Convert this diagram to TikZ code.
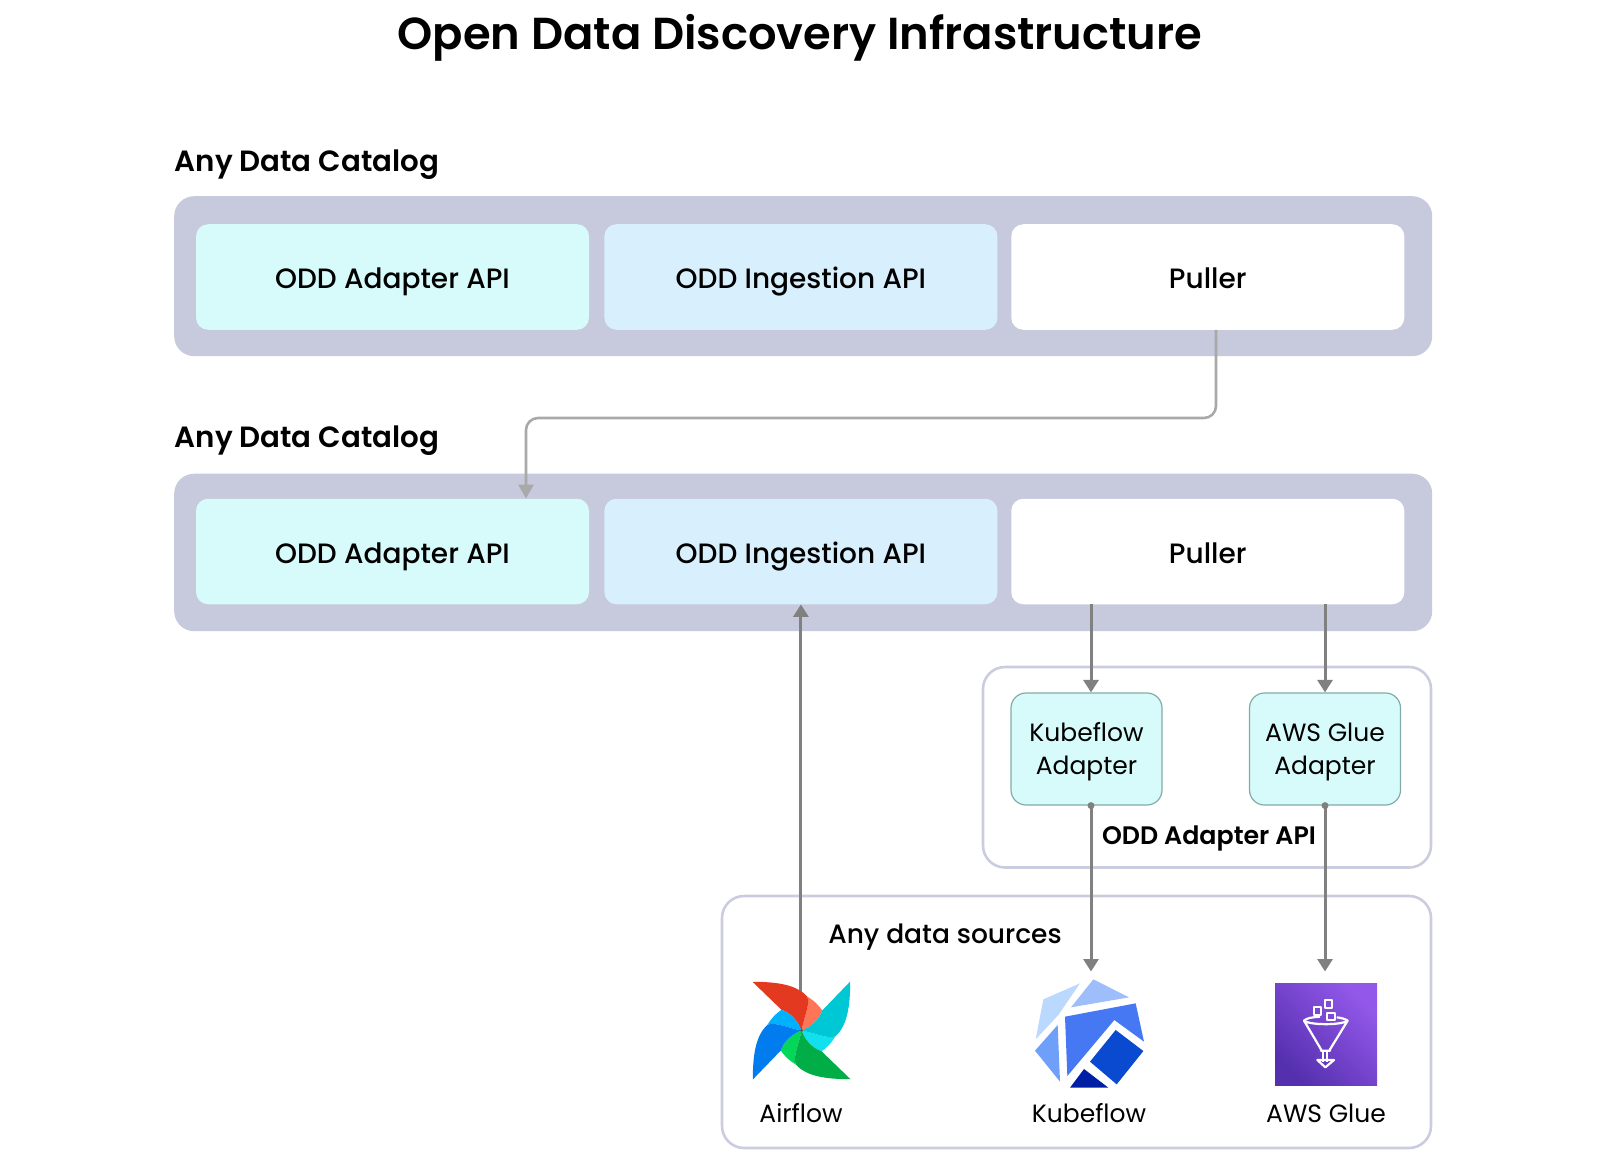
\documentclass[tikz,border=0pt]{standalone}
\usepackage{fontspec}
\setmainfont{Poppins}[BoldFont={Poppins SemiBold}]
\newfontfamily\mediumfont{Poppins Medium}
\usepackage{tikz}
\usetikzlibrary{arrows.meta, positioning, backgrounds}

\definecolor{panelgray}{HTML}{C7C9DC}
\definecolor{framegray}{HTML}{CBCCE0}
\definecolor{adaptercyan}{HTML}{D7FBFB}
\definecolor{ingestblue}{HTML}{D8F0FD}
\definecolor{adapteredge}{HTML}{82ABA8}
\definecolor{wiredark}{HTML}{808080}
\definecolor{wirelight}{HTML}{A9A9A9}
\definecolor{flowred}{HTML}{E43921}
\definecolor{flowredlt}{HTML}{FF7557}
\definecolor{flowteal}{HTML}{00C7D4}
\definecolor{flowtealt}{HTML}{11E1EE}
\definecolor{flowgreen}{HTML}{00AD46}
\definecolor{flowgreenlt}{HTML}{04D659}
\definecolor{flowblue}{HTML}{017CEE}
\definecolor{flowbluelt}{HTML}{00B1FF}
\definecolor{kubepale}{HTML}{BBD8FF}
\definecolor{kubetop}{HTML}{9DBDFB}
\definecolor{kubeleft}{HTML}{6FA0F9}
\definecolor{kubemain}{HTML}{4578F2}
\definecolor{kubedeep}{HTML}{0A4AD0}
\definecolor{kubenavy}{HTML}{001FA5}
\definecolor{gluedark}{HTML}{5530AE}
\definecolor{gluelight}{HTML}{9358EA}

\begin{document}
\begin{tikzpicture}[
    x=1pt, y=-1pt,
    panel/.style={rectangle, fill=panelgray, rounded corners=20pt, minimum width=1258pt, anchor=north west},
    apibox/.style={rectangle, rounded corners=12pt, minimum width=393pt, minimum height=105.5pt, text height=23pt, text depth=0pt, font=\fontsize{28}{34}\mediumfont},
    heading/.style={anchor=west, inner sep=0pt, font=\fontsize{29.3}{36}\selectfont\bfseries},
    frame/.style={rectangle, draw=framegray, line width=2.6pt, rounded corners=22pt, anchor=north west, outer sep=0pt},
    adapter/.style={rectangle, draw=adapteredge, line width=1.2pt, fill=adaptercyan, rounded corners=15pt, minimum width=151pt, minimum height=112pt, align=center, font=\fontsize{25}{33.5}\selectfont},
    source/.style={inner sep=0pt, font=\fontsize{25}{31}\selectfont},
    icon/.style={inner sep=0pt, minimum size=110pt, outer sep=7pt},
    arrow/.style={-{Triangle[width=15pt,length=12.5pt]}, line width=3pt, draw=wiredark},
    pull/.style={-{Triangle[width=15pt,length=14pt]}, line width=2.6pt, draw=wirelight, rounded corners=12pt}
]

% Title and headings
\node[inner sep=0pt, font=\fontsize{44.8}{54}\selectfont\bfseries] (title) at (800,38) {Open Data Discovery Infrastructure};
\node[heading] (catalogone) at (174.5,165) {Any Data Catalog};
\node[heading] (catalogtwo) at (174.5,441) {Any Data Catalog};

% First catalog
\node[apibox, fill=adaptercyan] (adapterone) at (392.5,277) {ODD Adapter API};
\node[apibox, fill=ingestblue, right=15pt of adapterone] (ingestone) {ODD Ingestion API};
\node[apibox, fill=white, right=13.5pt of ingestone] (pullerone) {Puller};

% Second catalog
\node[apibox, fill=adaptercyan] (adaptertwo) at (392.5,551.5) {ODD Adapter API};
\node[apibox, fill=ingestblue, right=15pt of adaptertwo] (ingesttwo) {ODD Ingestion API};
\node[apibox, fill=white, right=13.5pt of ingesttwo] (pullertwo) {Puller};

% Adapters
\node[adapter] (kubeadapter) at (1086.5,749) {\rule{0pt}{24pt}Kubeflow\\Adapter};
\node[adapter] (glueadapter) at (1325,749) {\rule{0pt}{24pt}AWS Glue\\Adapter};
\node[inner sep=0pt, font=\fontsize{25.3}{31}\selectfont\bfseries] (adapterlabel) at (1209,838) {ODD Adapter API};

% Data sources
\node[source, font=\fontsize{26.5}{31}\mediumfont] (sourcelabel) at (945,937.5) {Any data sources};
\node[icon] (airflow) at (801.5,1030.5) {};
\node[icon] (kubeflow) at (1089.5,1033.5) {};
\node[icon] (glue) at (1326,1033.5) {};
\node[source] (airflowlabel) at (801,1113) {Airflow};
\node[source] (kubeflowlabel) at (1089,1113) {Kubeflow};
\node[source] (gluelabel) at (1326,1113) {AWS Glue};

% Arrows
\coordinate (kubeline) at (1091,0);
\coordinate (glueline) at (1325,0);
\coordinate (pullline) at (1216,0);
\coordinate (pushline) at (526,0);
\draw[pull] (pullline |- pullerone.south) |- (pushline |- 0,418) -- (pushline |- adaptertwo.north);
\draw[arrow] (ingesttwo.south |- airflow.center) -- (ingesttwo.south);
\draw[arrow] (kubeline |- pullertwo.south) -- (kubeline |- kubeadapter.north);
\draw[arrow] (glueline |- pullertwo.south) -- (glueline |- glueadapter.north);
\draw[arrow] (kubeline |- kubeadapter.south) -- (kubeline |- kubeflow.north);
\draw[arrow] (glueline |- glueadapter.south) -- (glueline |- glue.north);
\fill[wiredark] (kubeline |- kubeadapter.south) circle (3.5pt);
\fill[wiredark] (glueline |- glueadapter.south) circle (3.5pt);

% Airflow pinwheel
\foreach \ang/\dk/\lt in {0/flowred/flowredlt, -90/flowteal/flowtealt, 180/flowgreen/flowgreenlt, 90/flowblue/flowbluelt} {
    \begin{scope}[shift={(airflow.center)}, rotate=\ang]
        \fill[\lt] (5.7,-34) .. controls (14,-29) and (18,-24) .. (20.7,-20) .. controls (18,-12) and (11,-4) .. (0,0) .. controls (3,-15) and (9,-27) .. (5.7,-34) -- cycle;
        \fill[\dk] (-49,-48.7) .. controls (-25,-48.7) and (-5,-46) .. (5.7,-34) .. controls (9,-27) and (3,-15) .. (0,0) .. controls (-4,-11) and (-12,-18) .. (-20,-20.7) -- cycle;
    \end{scope}
}
\fill[black!65] (airflow.center) circle (1.5pt);

% Kubeflow polygons
\begin{scope}[shift={(1025,970)}, scale=1/3]
    \fill[kubepale] (55,88) -- (165,40) -- (100,135) -- (32,208) -- cycle;
    \fill[kubetop] (205,28) -- (312,82) -- (138,112) -- cycle;
    \fill[kubeleft] (98,165) -- (105,335) -- (30,242) -- cycle;
    \fill[kubemain] (120,140) -- (332,100) -- (357,215) -- (268,150) -- (127,318) -- cycle;
    \fill[kubedeep] (272,180) -- (355,243) -- (275,343) -- (195,275) -- cycle;
    \fill[kubenavy] (177,297) -- (250,353) -- (135,353) -- cycle;
\end{scope}

% Glue tile
\shade[bottom color=gluedark, top color=gluelight, shading angle=-45] (1275,983) rectangle (1377,1085);
\begin{scope}[shift={(1220,960)}, scale=1/3, draw=white, line width=2.2pt, line join=round]
    \draw (281,142) rectangle (303,164);
    \draw (314,121) rectangle (336,143);
    \draw (322,158) rectangle (346,180);
    \draw (300,170) .. controls (275,172) and (260,174) .. (252,182);
    \draw (350,172) .. controls (360,173) and (375,176) .. (383,182);
    \draw (252,182) .. controls (270,196) and (365,196) .. (383,182) -- (330,268) -- (330,272) -- (303,272) -- (303,268) -- cycle;
    \draw (310,272) -- (310,305) (322,272) -- (322,305);
    \draw (292,300) -- (342,300) -- (316,322) -- cycle;
\end{scope}

% Group background
\begin{scope}[on background layer]
    \node[panel, minimum height=160pt] (panelone) at (174,196) {};
    \node[panel, minimum height=157.5pt] (paneltwo) at (174,473.5) {};
    \node[frame, minimum width=448pt, minimum height=200.5pt] (adapterframe) at (983,667) {};
    \node[frame, minimum width=709pt, minimum height=252pt] (sourceframe) at (722,896) {};
\end{scope}

\useasboundingbox (0,0) rectangle (1600,1150);
\end{tikzpicture}
\end{document}
